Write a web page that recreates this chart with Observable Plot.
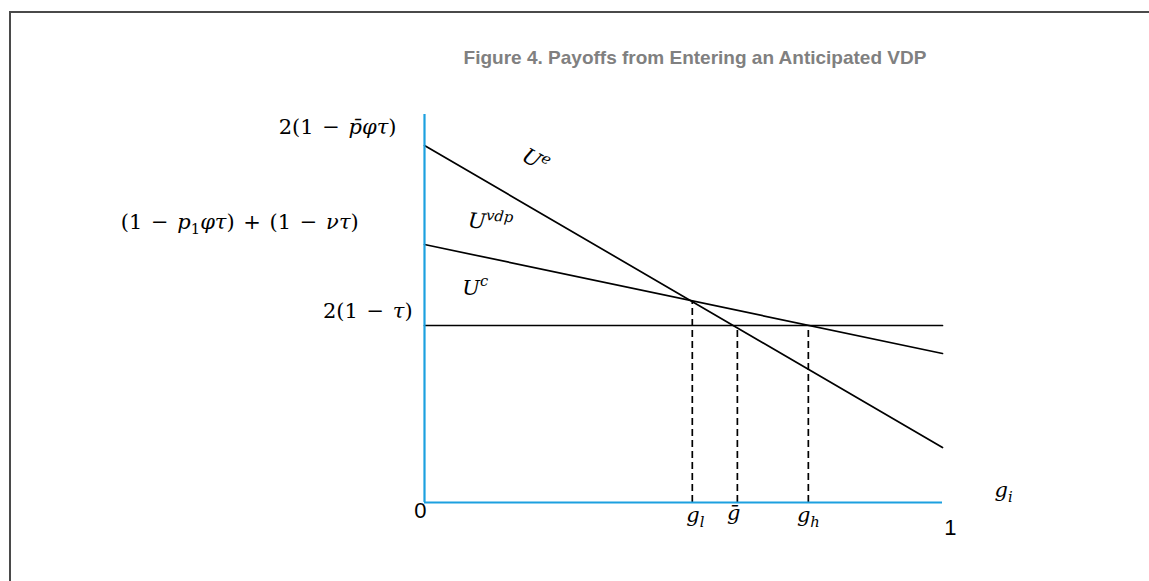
<!DOCTYPE html>
<html>
<head>
<meta charset="utf-8">
<script src="https://cdn.jsdelivr.net/npm/d3@7"></script>
<script src="https://cdn.jsdelivr.net/npm/@observablehq/plot@0.6"></script>
<style>
  html, body { margin: 0; padding: 0; background: #fff; }
  #wrap { position: relative; width: 1149px; height: 581px; overflow: hidden; }
  #frame { position: absolute; left: 9px; top: 11px; width: 1300px; height: 700px;
           border-top: 2px solid #4a4a4a; border-left: 2px solid #4a4a4a; }
  #title { position: absolute; top: 47px; left: 695px; transform: translateX(-50%);
           font: bold 19px "Liberation Sans", Arial, sans-serif; color: #808080; white-space: nowrap; }
  #chart { position: absolute; left: 0; top: 0; }
</style>
</head>
<body>
<div id="wrap">
  <div id="frame"></div>
  <div id="title">Figure 4. Payoffs from Entering an Anticipated VDP</div>
  <div id="chart"></div>
</div>
<script>
// ---- data (model units: g on [0,1], payoff in arbitrary units) ----
const seriesNames = ["U^{e}", "U^{vdp}", "U^{c}"];
const payoffAtZero = [3.57, 2.58, 1.77];
const payoffAtOne = [0.55, 1.49, 1.77];

const thresholdNames = ["g_{l}", "g\u0304", "g_{h}"];
const thresholdG = [0.517, 0.604, 0.741];
const thresholdPayoff = [2.016, 1.77, 1.77];

const yLabels = ["2(1 \u2212 p\u0304\u03c6\u03c4)", "(1 \u2212 p_{1}\u03c6\u03c4) + (1 \u2212 \u03bd\u03c4)", "2(1 \u2212 \u03c4)"];
const yLabelPayoff = [3.75, 2.80, 1.91];
const yLabelG = [-0.054, -0.127, -0.023];

const curveLabelG = [0.214, 0.127, 0.098];
const curveLabelPayoff = [3.42, 2.80, 2.14];

const axisEndLabels = ["0", "1"];
const axisEndG = [-0.008, 1.015];
const axisEndPayoff = [-0.08, -0.25];

const xAxisName = "g_{i}";
const xAxisNameG = 1.118;
const xAxisNamePayoff = 0.12;

const thresholdLabelG = [0.523, 0.597, 0.741];
const thresholdLabelPayoff = [-0.13, -0.11, -0.13];

const yAxisTop = 3.88;

// ---- tables ----
const lineData = seriesNames.flatMap((name, i) => [
  {name, g: 0, u: payoffAtZero[i]},
  {name, g: 1, u: payoffAtOne[i]}
]);
const thresholds = thresholdNames.map((name, i) => ({name, g: thresholdG[i], top: thresholdPayoff[i]}));
const yLab = yLabels.map((t, i) => ({t, g: yLabelG[i], u: yLabelPayoff[i]}));
const curveLab = seriesNames.map((t, i) => ({t, g: curveLabelG[i], u: curveLabelPayoff[i]}));
const curveAngles = [30, 5, 0];
const endLab = axisEndLabels.map((t, i) => ({t, g: axisEndG[i], u: axisEndPayoff[i]}));
const thrLab = thresholdNames.map((t, i) => ({t, g: thresholdLabelG[i], u: thresholdLabelPayoff[i]}));

const BLUE = "#1ca0df";
const MATHFONT = "'DejaVu Serif', 'Liberation Serif', serif";

const plot = Plot.plot({
  width: 1149,
  height: 581,
  margin: 0,
  style: {background: "transparent", overflow: "visible"},
  x: {domain: [0, 1], range: [424, 942], axis: null},
  y: {domain: [0, 4], range: [502, 102], axis: null},
  marks: [
    Plot.ruleX(thresholds, {x: "g", y1: 0, y2: "top", stroke: "#000", strokeWidth: 1.7, strokeDasharray: "7,4"}),
    Plot.line(lineData, {x: "g", y: "u", z: "name", stroke: "#000", strokeWidth: 1.7}),
    Plot.ruleX([0], {y1: 0, y2: yAxisTop, stroke: BLUE, strokeWidth: 2.2}),
    Plot.ruleY([0], {x1: 0, x2: 1, stroke: BLUE, strokeWidth: 2.2}),
    Plot.text(yLab, {x: "g", y: "u", text: "t", textAnchor: "end", fontSize: 21}),
    ...curveLab.map((d, i) => Plot.text([d], {x: "g", y: "u", text: "t", rotate: curveAngles[i], fontSize: 21})),
    Plot.text(thrLab, {x: "g", y: "u", text: "t", fontSize: 21}),
    Plot.text([{t: xAxisName, g: xAxisNameG, u: xAxisNamePayoff}], {x: "g", y: "u", text: "t", fontSize: 21}),
    Plot.text(endLab, {x: "g", y: "u", text: "t", fontSize: 22, fontFamily: "'Liberation Sans', Arial, sans-serif", fill: "#000"})
  ]
});
document.getElementById("chart").appendChild(plot);

// ---- rich math text: italic letters, sub/superscripts ----
const NS = "http://www.w3.org/2000/svg";
function parseMath(src) {
  const segs = [];
  let i = 0;
  const push = (ch, level) => {
    const isLetter = /[A-Za-z\u0370-\u03FF]/.test(ch);
    if (ch === "\u0304" && segs.length) { segs[segs.length - 1].text += ch; return; }
    const italic = isLetter;
    const last = segs[segs.length - 1];
    if (last && last.italic === italic && last.level === level) last.text += ch;
    else segs.push({text: ch, italic, level});
  };
  while (i < src.length) {
    const c = src[i];
    if ((c === "^" || c === "_") && src[i + 1] === "{") {
      const end = src.indexOf("}", i);
      const inner = src.slice(i + 2, end);
      for (const ch of inner) push(ch, c === "^" ? 1 : -1);
      i = end + 1;
    } else { push(c, 0); i++; }
  }
  return segs;
}
const mathStrings = new Set([...seriesNames, ...thresholdNames, ...yLabels, xAxisName]);
plot.querySelectorAll("text").forEach(el => {
  const src = el.textContent;
  if (!mathStrings.has(src)) return;
  const size = 21;
  el.textContent = "";
  el.setAttribute("font-family", MATHFONT);
  el.setAttribute("word-spacing", "2");
  let shift = 0;
  for (const s of parseMath(src)) {
    const ts = document.createElementNS(NS, "tspan");
    ts.textContent = s.text;
    if (s.italic) ts.setAttribute("font-style", "italic");
    const target = s.level === 1 ? -0.42 * size : s.level === -1 ? 0.25 * size : 0;
    if (s.level !== 0) ts.setAttribute("font-size", (0.7 * size).toFixed(1));
    if (target !== shift) { ts.setAttribute("dy", (target - shift).toFixed(2)); shift = target; }
    el.appendChild(ts);
  }
});
</script>
</body>
</html>
